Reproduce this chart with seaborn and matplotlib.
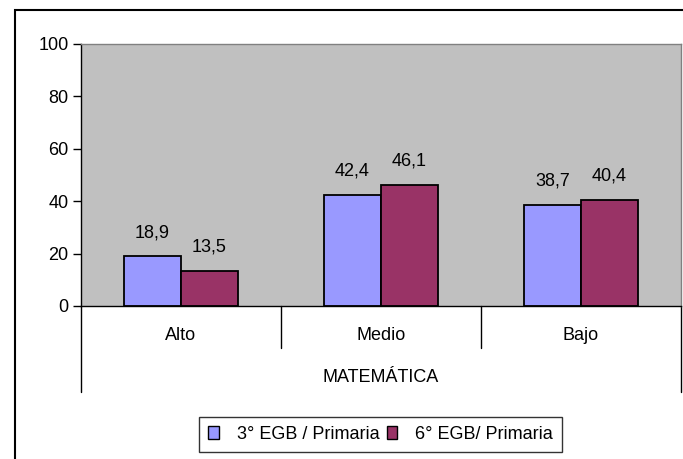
import matplotlib
matplotlib.use("Agg")
import matplotlib.pyplot as plt
from matplotlib.patches import Rectangle
from matplotlib.lines import Line2D
import seaborn as sns
import pandas as pd

categories = ["Alto", "Medio", "Bajo"]
series_names = ["3° EGB / Primaria", "6° EGB/ Primaria"]
values_3 = [18.9, 42.4, 38.7]
values_6 = [13.5, 46.1, 40.4]
group_label = "MATEMÁTICA"
yticks = [0, 20, 40, 60, 80, 100]

colors = ["#9999FF", "#993366"]

df = pd.DataFrame({
    "cat": categories * 2,
    "serie": [series_names[0]] * 3 + [series_names[1]] * 3,
    "val": values_3 + values_6,
})

sns.set_style("white")
plt.rcParams["font.family"] = ["Liberation Sans", "DejaVu Sans"]
plt.rcParams["text.color"] = "black"
plt.rcParams["xtick.labelcolor"] = "black"
plt.rcParams["ytick.labelcolor"] = "black"

FS = 13

fig = plt.figure(figsize=(6.83, 4.59), dpi=100)
ax = fig.add_axes([81/683, 1-306/459, 600/683, 262/459])

sns.barplot(data=df, x="cat", y="val", hue="serie", order=categories,
            hue_order=series_names, palette=colors, width=0.57,
            edgecolor="black", linewidth=1.3, saturation=1, ax=ax, legend=False)

ax.set_facecolor("#C0C0C0")
ax.set_xlim(-0.5, 2.5)
ax.set_ylim(0, 100)
ax.set_yticks(yticks)
ax.set_yticklabels([str(t) for t in yticks], fontsize=FS, color="black")
ax.tick_params(axis="y", direction="out", length=6, width=1, color="black", pad=3, left=True)
ax.set_xticks(range(len(categories)))
ax.set_xticklabels(categories, fontsize=FS, color="black")
ax.tick_params(axis="x", length=0, pad=15)
ax.set_xlabel("")
ax.set_ylabel("")

for s in ["top", "right"]:
    ax.spines[s].set_color("#808080")
    ax.spines[s].set_linewidth(1)
ax.spines["left"].set_color("black")
ax.spines["bottom"].set_color("black")
ax.spines["left"].set_linewidth(1)
ax.spines["bottom"].set_linewidth(1)

for cont, vals in zip(ax.containers, [values_3, values_6]):
    ax.bar_label(cont, labels=[f"{v:.1f}".replace(".", ",") for v in vals],
                 padding=11, fontsize=FS, color="black")

# category separators and group box
trans = ax.get_xaxis_transform()
for xs in [0.5, 1.5]:
    ax.add_line(Line2D([xs, xs], [0, -0.160], transform=trans, color="black", lw=1, clip_on=False))
for xs in [-0.5, 2.5]:
    ax.add_line(Line2D([xs, xs], [0, -0.328], transform=trans, color="black", lw=1, clip_on=False))
ax.text(0.5, -0.271, group_label, transform=ax.transAxes, ha="center", va="center",
        fontsize=FS, color="black")

# legend
handles = [Rectangle((0, 0), 1, 1, facecolor=c, edgecolor="black", lw=1) for c in colors]
leg = fig.legend(handles, series_names, loc="center", bbox_to_anchor=(380.5/683, 1-434.5/459),
                 ncol=2, fontsize=FS, frameon=True, fancybox=False, edgecolor="black",
                 handlelength=0.6, handleheight=0.7, handletextpad=1.0, columnspacing=0.4,
                 borderpad=0.5)
leg.get_frame().set_linewidth(1)
for t in leg.get_texts():
    t.set_color("black")

# outer chart frame
fig.patches.append(Rectangle((15/683, -0.05), 1.1, 1-10/459+0.05, transform=fig.transFigure,
                             fill=False, edgecolor="black", lw=1.5, zorder=0))

fig.savefig("out.png", dpi=100)
